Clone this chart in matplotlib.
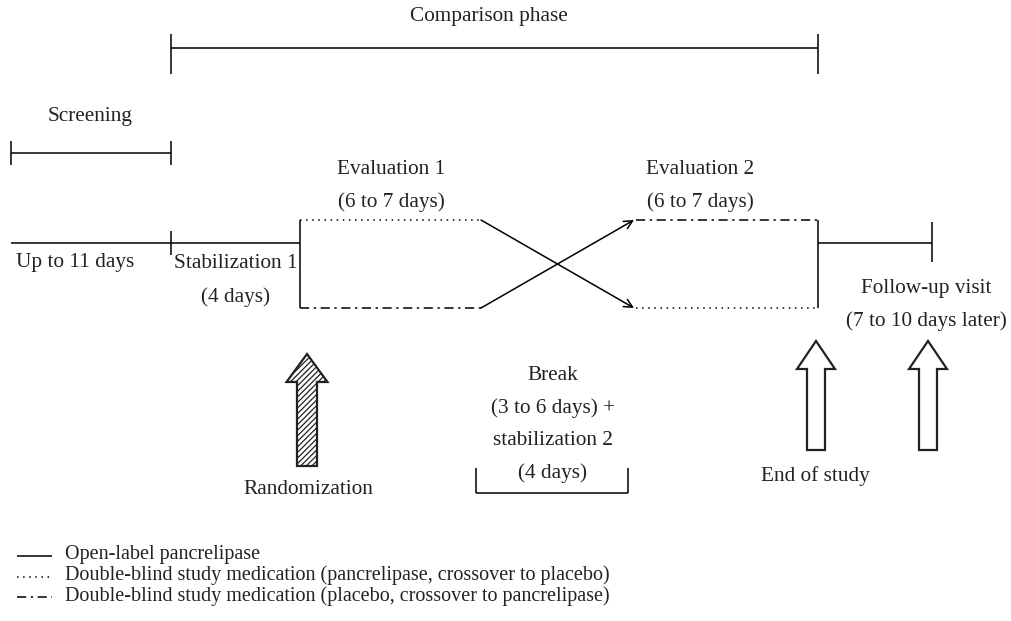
import matplotlib
matplotlib.use("Agg")
import matplotlib.pyplot as plt
from matplotlib.patches import Polygon

# ---- data ----
phase_labels = ["Comparison phase", "Screening"]
period_labels = ["Up to 11 days", "Stabilization 1", "(4 days)",
                 "Evaluation 1", "(6 to 7 days)", "Evaluation 2", "(6 to 7 days)",
                 "Follow-up visit", "(7 to 10 days later)"]
break_labels = ["Break", "(3 to 6 days) +", "stabilization 2", "(4 days)"]
arrow_labels = ["Randomization", "End of study"]
legend_labels = ["Open-label pancrelipase",
                 "Double-blind study medication (pancrelipase, crossover to placebo)",
                 "Double-blind study medication (placebo, crossover to pancrelipase)"]

W, H = 1012, 621
fig = plt.figure(figsize=(W / 100, H / 100), dpi=100)
ax = fig.add_axes([0, 0, 1, 1])
ax.set_xlim(0, W)
ax.set_ylim(H, 0)
ax.axis("off")

FONT = "Liberation Serif"
FS = 15.3
lw = 1.1
k = "black"

def line(x, y, ls="-"):
    ax.plot(x, y, color=k, lw=lw, ls=ls, solid_capstyle="butt")

def txt(x, y, s, ha="center", fs=FS):
    ax.text(x, y, s, ha=ha, va="center", fontsize=fs, family=FONT, color="#222222")

dotted = (0, (1, 3))
dashdot = (0, (6, 3, 1.5, 3))

# comparison phase bracket
line([171, 818], [48, 48])
line([171, 171], [34, 74])
line([818, 818], [34, 74])
txt(489, 16, phase_labels[0])

# screening bracket
line([11, 171], [153, 153])
line([11, 11], [141, 165])
line([171, 171], [141, 165])
txt(90, 116, phase_labels[1])

# main timeline
line([11, 300], [243, 243])
line([171, 171], [231, 255])
line([300, 300], [220, 308])
line([300, 481], [220, 220], dotted)
line([300, 481], [308, 308], dashdot)
ax.annotate("", xy=(634, 308), xytext=(481, 220),
            arrowprops=dict(arrowstyle="->", color=k, lw=lw, shrinkA=0, shrinkB=0,
                            mutation_scale=15))
ax.annotate("", xy=(634, 220), xytext=(481, 308),
            arrowprops=dict(arrowstyle="->", color=k, lw=lw, shrinkA=0, shrinkB=0,
                            mutation_scale=15))
line([636, 818], [220, 220], dashdot)
line([636, 818], [308, 308], dotted)
line([818, 818], [220, 308])
line([818, 932], [243, 243])
line([932, 932], [222, 262])

txt(75, 263, period_labels[0])
txt(236, 263, period_labels[1])
txt(236, 297, period_labels[2])
txt(391, 169, period_labels[3])
txt(391, 202, period_labels[4])
txt(700, 169, period_labels[5])
txt(700, 202, period_labels[6])
txt(926, 288, period_labels[7])
txt(926, 321, period_labels[8])

# break block
for i, s in enumerate(break_labels):
    txt(553, 375 + i * 32.7, s)
line([476, 628], [493, 493])
line([476, 476], [468, 493])
line([628, 628], [468, 493])

# block arrows
def block_arrow(cx, tip, base, bottom, shaft_w, head_w, hatch=None):
    pts = [(cx, tip), (cx + head_w / 2, base), (cx + shaft_w / 2, base),
           (cx + shaft_w / 2, bottom), (cx - shaft_w / 2, bottom),
           (cx - shaft_w / 2, base), (cx - head_w / 2, base)]
    p = Polygon(pts, closed=True, facecolor="white", edgecolor="#222222",
                lw=1.6, hatch=hatch)
    ax.add_patch(p)

plt.rcParams["hatch.linewidth"] = 0.9
block_arrow(307, 354, 382, 466, 20, 41, hatch="//////")
block_arrow(816, 341, 369, 450, 18, 38)
block_arrow(928, 341, 369, 450, 18, 38)
txt(308, 490, arrow_labels[0])
txt(815, 476, arrow_labels[1])

# legend
styles = ["-", dotted, dashdot]
for i, (s, ls) in enumerate(zip(legend_labels, styles)):
    y = 556 + i * 20.5
    line([17, 52], [y, y], ls)
    txt(65, y - 1, s, ha="left", fs=14.5)

fig.savefig("out.png", dpi=100)
